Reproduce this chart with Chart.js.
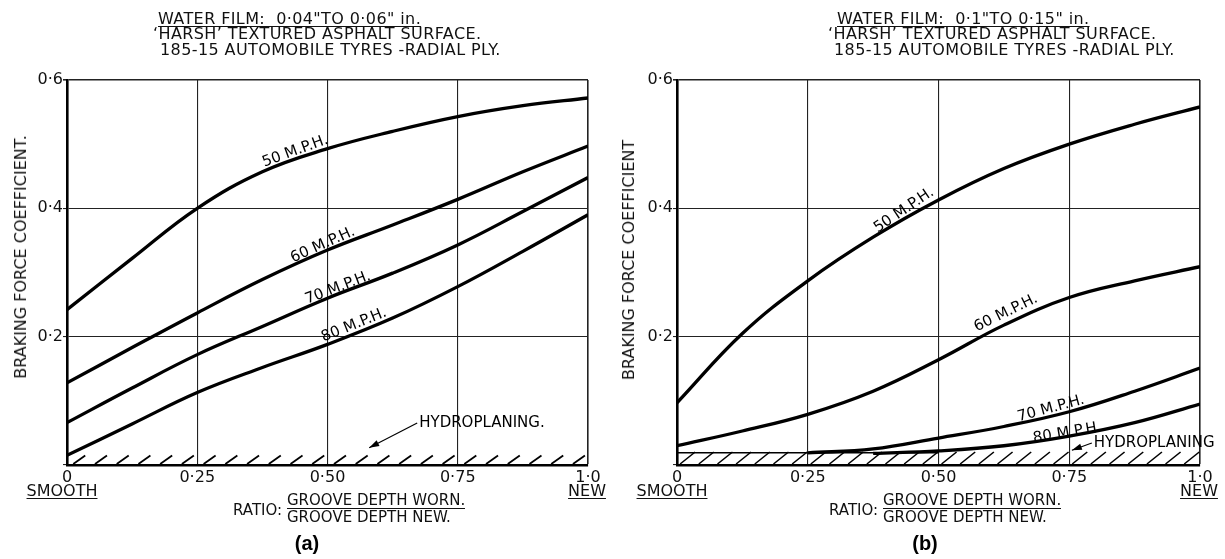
<!DOCTYPE html>
<html>
<head>
<meta charset="utf-8">
<script src="https://cdn.jsdelivr.net/npm/chart.js@4.4.0/dist/chart.umd.min.js"></script>
<style>
html,body{margin:0;padding:0;background:#fff;}
body{width:1225px;height:559px;position:relative;overflow:hidden;font-family:"DejaVu Sans",sans-serif;color:#111;}
canvas{position:absolute;top:0;}
.t{position:absolute;white-space:pre;font-size:16px;line-height:16px;letter-spacing:0.4px;}
.u{text-decoration:underline;text-underline-offset:2px;}
.yt{position:absolute;white-space:pre;font-size:16px;line-height:16px;transform:translate(-50%,-50%) rotate(-90deg);}
.c{position:absolute;white-space:pre;font-size:16px;line-height:16px;transform:translate(-50%,-50%);}
.num{position:absolute;white-space:pre;font-size:15px;line-height:15px;border-bottom:1.5px solid #111;padding-bottom:0px;}
.den{position:absolute;white-space:pre;font-size:15px;line-height:15px;}
.cap{position:absolute;font-family:"Liberation Sans",Arial,sans-serif;font-weight:bold;font-size:20px;transform:translate(-50%,-50%);color:#000;}
</style>
</head>
<body>
<canvas id="ca" width="612" height="559" style="left:0px"></canvas>
<canvas id="cb" width="613" height="559" style="left:612px"></canvas>

<div class="t u" style="left:158px;top:11px">WATER FILM:  0·04"TO 0·06" in.</div>
<div class="t" style="left:153px;top:26px">‘HARSH’ TEXTURED ASPHALT SURFACE.</div>
<div class="t" style="left:160px;top:42px">185-15 AUTOMOBILE TYRES -RADIAL PLY.</div>

<div class="t u" style="left:837px;top:11px">WATER FILM:  0·1"TO 0·15" in.</div>
<div class="t" style="left:828px;top:26px">‘HARSH’ TEXTURED ASPHALT SURFACE.</div>
<div class="t" style="left:834px;top:42px">185-15 AUTOMOBILE TYRES -RADIAL PLY.</div>

<div class="yt" style="left:21px;top:257px">BRAKING FORCE COEFFICIENT.</div>
<div class="yt" style="left:629px;top:260px">BRAKING FORCE COEFFICIENT</div>

<div class="c u" style="left:62px;top:491px">SMOOTH</div>
<div class="c u" style="left:587px;top:491px">NEW</div>
<div class="c u" style="left:672px;top:491px">SMOOTH</div>
<div class="c u" style="left:1199px;top:491px">NEW</div>

<div class="den" style="left:233px;top:503px">RATIO:</div>
<div class="num" style="left:287px;top:493px">GROOVE DEPTH WORN.</div>
<div class="den" style="left:287px;top:510px">GROOVE DEPTH NEW.</div>

<div class="den" style="left:829px;top:503px">RATIO:</div>
<div class="num" style="left:883px;top:493px">GROOVE DEPTH WORN.</div>
<div class="den" style="left:883px;top:510px">GROOVE DEPTH NEW.</div>

<div class="cap" style="left:307px;top:543px">(a)</div>
<div class="cap" style="left:925px;top:543px">(b)</div>

<script>
// ---------- data ----------
const ratioX = [0, 0.125, 0.25, 0.375, 0.5, 0.625, 0.75, 0.875, 1.0];
const xTickValues = [0, 0.25, 0.5, 0.75, 1.0];
const xTickLabels = ['0', '0·25', '0·50', '0·75', '1·0'];
const yTickValues = [0, 0.2, 0.4, 0.6];
const yTickLabels = ['', '0·2', '0·4', '0·6'];

// (a) water film 0.04 - 0.06 in.
const a_50mph = [0.242, 0.322, 0.400, 0.457, 0.493, 0.520, 0.543, 0.560, 0.572];
const a_60mph = [0.128, 0.183, 0.237, 0.289, 0.335, 0.374, 0.414, 0.457, 0.497];
const a_70mph = [0.066, 0.120, 0.172, 0.216, 0.260, 0.299, 0.343, 0.395, 0.448];
const a_80mph = [0.015, 0.064, 0.113, 0.152, 0.188, 0.229, 0.278, 0.333, 0.390];

// (b) water film 0.1 - 0.15 in.
const b_50mph = [0.097, 0.205, 0.287, 0.355, 0.413, 0.462, 0.500, 0.531, 0.558];
const b_60mph = [0.030, 0.053, 0.079, 0.115, 0.164, 0.218, 0.261, 0.287, 0.309];
const b_70mph = [null, null, 0.019, 0.025, 0.042, 0.060, 0.083, 0.115, 0.151];
const b_80mph = [null, null, null, 0.018, 0.022, 0.030, 0.045, 0.066, 0.095];

const speedLabels = ['50 M.P.H.', '60 M.P.H.', '70 M.P.H.', '80 M.P.H.'];
const hydroText = ['HYDROPLANING.', 'HYDROPLANING'];

// ---------- drawing ----------
const FONT = '"DejaVu Sans", sans-serif';

function series(vals) {
  const pts = [];
  ratioX.forEach((x, i) => { if (vals[i] !== null) pts.push({x: x, y: vals[i]}); });
  return {
    data: pts, borderColor: '#000', borderWidth: 3.3, pointRadius: 0,
    tension: 0.4, fill: false
  };
}

function makeAnnot(cfg) {
  return {
    id: 'annot',
    afterDatasetsDraw(chart) {
      const {ctx, chartArea: ca} = chart;
      const x = chart.scales.x, y = chart.scales.y;
      ctx.save();
      // hatching (hydroplaning zone)
      ctx.save();
      ctx.beginPath();
      ctx.rect(ca.left, ca.top, ca.right - ca.left, ca.bottom - ca.top);
      ctx.clip();
      ctx.strokeStyle = '#000';
      const h = cfg.hatch;
      const bottom = y.getPixelForValue(0);
      ctx.lineWidth = h.w;
      for (let v = h.start; v < 1.0; v += h.step) {
        const px = x.getPixelForValue(v);
        ctx.beginPath();
        ctx.moveTo(px, bottom - 1);
        ctx.lineTo(px + h.dx, bottom - 1 - h.dy);
        ctx.stroke();
      }
      if (h.topVal !== undefined) {
        ctx.lineWidth = 1.6;
        ctx.beginPath();
        ctx.moveTo(x.getPixelForValue(0), y.getPixelForValue(h.topVal));
        ctx.lineTo(x.getPixelForValue(h.topEnd), y.getPixelForValue(h.topVal));
        ctx.stroke();
      }
      ctx.restore();

      // curve labels
      ctx.fillStyle = '#000';
      ctx.font = '15px ' + FONT;
      ctx.textAlign = 'center';
      ctx.textBaseline = 'middle';
      cfg.labels.forEach((l, i) => {
        ctx.save();
        ctx.translate(x.getPixelForValue(l.x), y.getPixelForValue(l.y));
        ctx.rotate(-l.a * Math.PI / 180);
        ctx.fillText(speedLabels[i], 0, 0);
        ctx.restore();
      });

      // hydroplaning note with arrow
      const hy = cfg.hydro;
      const tx = x.getPixelForValue(hy.tx), ty = y.getPixelForValue(hy.ty);
      ctx.textAlign = 'left';
      ctx.font = '15px ' + FONT;
      ctx.fillText(hy.text, tx, ty);
      const ax = x.getPixelForValue(hy.ax), ay = y.getPixelForValue(hy.ay);
      const sx = tx - 2, sy = ty;
      ctx.strokeStyle = '#000';
      ctx.lineWidth = 1.2;
      ctx.beginPath(); ctx.moveTo(sx, sy); ctx.lineTo(ax, ay); ctx.stroke();
      const ang = Math.atan2(ay - sy, ax - sx);
      const L = 10, W = 3.2;
      ctx.beginPath();
      ctx.moveTo(ax, ay);
      ctx.lineTo(ax - L * Math.cos(ang) + W * Math.sin(ang), ay - L * Math.sin(ang) - W * Math.cos(ang));
      ctx.lineTo(ax - L * Math.cos(ang) - W * Math.sin(ang), ay - L * Math.sin(ang) + W * Math.cos(ang));
      ctx.closePath();
      ctx.fill();
      ctx.restore();
    }
  };
}

function makeChart(id, data, yAxisWidth, padRight, cfg) {
  return new Chart(document.getElementById(id), {
    type: 'line',
    data: { datasets: data.map(series) },
    options: {
      responsive: false, animation: false, devicePixelRatio: 1,
      layout: { padding: { top: 80, right: padRight, left: 0, bottom: 0 } },
      plugins: { legend: { display: false }, tooltip: { enabled: false } },
      scales: {
        x: {
          type: 'linear', min: 0, max: 1,
          afterBuildTicks: s => { s.ticks = xTickValues.map(v => ({ value: v })); },
          afterFit: s => { s.height = 94; },
          ticks: { callback: (v, i) => xTickLabels[i], font: { size: 16, family: FONT }, color: '#111', padding: 3, maxRotation: 0, autoSkip: false },
          grid: { color: '#222', lineWidth: c => (c.index === xTickValues.length - 1 ? 1.6 : 1.1), drawTicks: false },
          border: { color: '#000', width: 2.6 }
        },
        y: {
          type: 'linear', min: 0, max: 0.6,
          afterBuildTicks: s => { s.ticks = yTickValues.map(v => ({ value: v })); },
          afterFit: s => { s.width = yAxisWidth; },
          ticks: { callback: (v, i) => yTickLabels[i], font: { size: 16, family: FONT }, color: '#111', padding: 0, autoSkip: false },
          grid: { color: '#222', lineWidth: c => (c.index === yTickValues.length - 1 ? 1.6 : 1.1), drawTicks: true, tickLength: 4 },
          border: { color: '#000', width: 2.6 }
        }
      }
    },
    plugins: [makeAnnot(cfg)]
  });
}

makeChart('ca', [a_50mph, a_60mph, a_70mph, a_80mph], 67, 24, {
  hatch: { start: 0.012, step: 0.0417, dx: 12, dy: 8.5, w: 1.8 },
  labels: [
    { x: 0.438, y: 0.489, a: 20 },
    { x: 0.491, y: 0.343, a: 24 },
    { x: 0.520, y: 0.276, a: 21 },
    { x: 0.551, y: 0.218, a: 22 }
  ],
  hydro: { text: hydroText[0], tx: 0.676, ty: 0.0655, ax: 0.58, ay: 0.027 }
});

makeChart('cb', [b_50mph, b_60mph, b_70mph, b_80mph], 65, 25, {
  hatch: { start: 0.006, step: 0.0357, dx: 15, dy: 12, w: 1.6, topVal: 0.019, topEnd: 0.5 },
  labels: [
    { x: 0.434, y: 0.397, a: 34 },
    { x: 0.629, y: 0.237, a: 26 },
    { x: 0.715, y: 0.088, a: 15 },
    { x: 0.746, y: 0.050, a: 9.5 }
  ],
  hydro: { text: hydroText[1], tx: 0.797, ty: 0.0343, ax: 0.755, ay: 0.023 }
});
</script>
</body>
</html>
